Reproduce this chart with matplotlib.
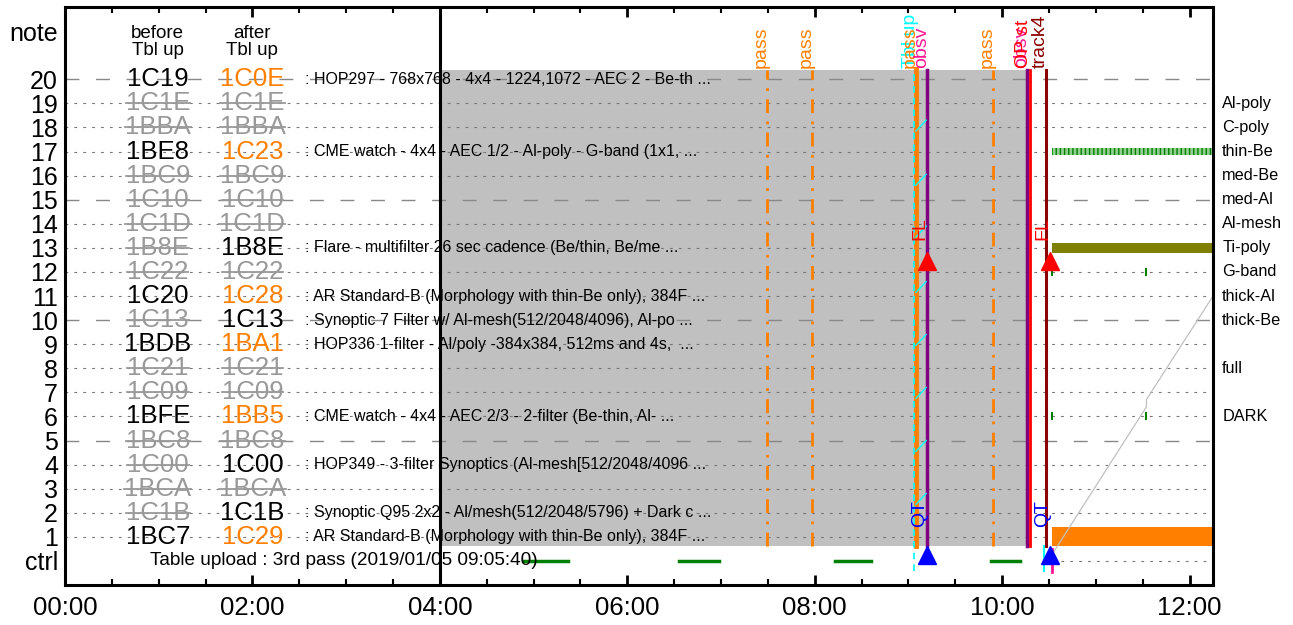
import matplotlib
matplotlib.use("Agg")
import matplotlib.pyplot as plt
from matplotlib.patches import Rectangle

plt.rcParams['font.family'] = ['Liberation Sans', 'DejaVu Sans']

ORANGE = '#ff8000'
GRAY = '#999999'

# program table slots, top to bottom
slots = [20, 19, 18, 17, 16, 15, 14, 13, 12, 11, 10, 9, 8, 7, 6, 5, 4, 3, 2, 1]
before_ids = ['1C19', '1C1E', '1BBA', '1BE8', '1BC9', '1C10', '1C1D', '1B8E', '1C22', '1C20',
              '1C13', '1BDB', '1C21', '1C09', '1BFE', '1BC8', '1C00', '1BCA', '1C1B', '1BC7']
after_ids = ['1C0E', '1C1E', '1BBA', '1C23', '1BC9', '1C10', '1C1D', '1B8E', '1C22', '1C28',
             '1C13', '1BA1', '1C21', '1C09', '1BB5', '1BC8', '1C00', '1BCA', '1C1B', '1C29']
# k = kept, n = new, x = not used
before_state = ['k', 'x', 'x', 'k', 'x', 'x', 'x', 'x', 'x', 'k',
                'x', 'k', 'x', 'x', 'k', 'x', 'x', 'x', 'x', 'k']
after_state = ['n', 'x', 'x', 'n', 'x', 'x', 'x', 'k', 'x', 'n',
               'k', 'n', 'x', 'x', 'n', 'x', 'k', 'x', 'k', 'n']
descriptions = {
    20: ": HOP297 - 768x768 - 4x4 - 1224,1072 - AEC 2 - Be-th ...",
    17: ": CME watch - 4x4 - AEC 1/2 - Al-poly - G-band (1x1, ...",
    13: ": Flare - multifilter 26 sec cadence (Be/thin, Be/me ...",
    11: ": AR Standard-B (Morphology with thin-Be only), 384F ...",
    10: ": Synoptic 7 Filter w/ Al-mesh(512/2048/4096), Al-po ...",
    9: ": HOP336 1-filter - Al/poly -384x384, 512ms and 4s,  ...",
    6: ": CME watch - 4x4 - AEC 2/3 - 2-filter (Be-thin, Al- ...",
    4: ": HOP349 - 3-filter Synoptics (Al-mesh[512/2048/4096 ...",
    2: ": Synoptic Q95 2x2 - Al/mesh(512/2048/5796) + Dark c ...",
    1: ": AR Standard-B (Morphology with thin-Be only), 384F ...",
}
filter_rows = [19, 18, 17, 16, 15, 14, 13, 12, 11, 10, 8, 6]
filter_names = ['Al-poly', 'C-poly', 'thin-Be', 'med-Be', 'med-Al', 'Al-mesh',
                'Ti-poly', 'G-band', 'thick-Al', 'thick-Be', 'full', 'DARK']

# times in hours
upload_line = 4.0
busy_start, busy_end = 4.0, 10.27
pass_times = [7.49, 7.97, 9.08, 9.90]
tbl_up_time = 9.06
flare_time = 9.08
obsv_times = [9.20, 10.27]
op_start = 10.30
track4_time = 10.47
fl_times = [9.20, 10.51]
cyan_marks = [18.1, 15.85, 13.7, 11.4, 9.2, 7.0, 4.8, 2.6]
ctrl_start = [4.89, 6.55, 8.22, 9.88]
ctrl_end = [5.37, 6.98, 8.60, 10.19]
exp_start = 10.53
gband_marks = [10.53, 11.54]
dark_marks = [10.53, 11.54]
volume_x = [10.53, 11.54, 11.54, 12.30]
volume_y = [0.25, 6.40, 6.70, 11.30]

XMAX = 12.25

fig = plt.figure(figsize=(12.93, 6.25), dpi=100)
ax = fig.add_axes([65 / 1293, 40 / 625, 1148 / 1293, 578 / 625])
ax.set_xlim(0, XMAX)
ax.set_ylim(-1, 23)

ax.add_patch(Rectangle((busy_start, 0.6), busy_end - busy_start, 19.8,
                       color='#c0c0c0', lw=0, zorder=0.5))

# row grid
for r in range(1, 21):
    if r % 5 == 0:
        ax.axhline(r, color='#888888', lw=1.0, dashes=(10, 12), zorder=1)
    else:
        ax.axhline(r, color='#777777', lw=0.8, dashes=(2.5, 5.5), zorder=1)
ax.plot([exp_start, XMAX], [0, 0], color='#777777', lw=0.8, dashes=(2.5, 5.5), zorder=1)

ax.axvline(upload_line, color='black', lw=2.2, zorder=4)

# table ids
struck = []
for i, s in enumerate(slots):
    for x, code, st in [(0.99, before_ids[i], before_state[i]), (2.0, after_ids[i], after_state[i])]:
        c = {'k': 'black', 'n': ORANGE, 'x': GRAY}[st]
        t = ax.text(x, s, code, color=c, fontsize=18.5, ha='center', va='center', zorder=5)
        if st == 'x':
            struck.append((t, s))
    if s in descriptions:
        ax.text(2.56, s, descriptions[s], fontsize=11.5, ha='left', va='center', zorder=5)

ax.text(0.99, 21.55, "before\nTbl up", fontsize=13.5, ha='center', va='center', linespacing=1.0)
ax.text(2.0, 21.55, "after\nTbl up", fontsize=13.5, ha='center', va='center', linespacing=1.0)
ax.text(0.91, 0, "Table upload : 3rd pass (2019/01/05 09:05:40)", fontsize=13.7,
        ha='left', va='center', zorder=5)

# event lines
ax.text(tbl_up_time - 0.04, 20.45, "Tbl up", color='cyan', fontsize=14, rotation=90,
        ha='center', va='bottom', zorder=2)
for p in pass_times:
    ax.plot([p, p], [0.6, 20.4], color=ORANGE, lw=2, ls=(0, (5, 3, 1, 3)), zorder=3)
    ax.text(p - 0.06, 20.45, "pass", color=ORANGE, fontsize=14, rotation=90,
            ha='center', va='bottom', zorder=3)
ax.plot([flare_time, flare_time], [0.6, 20.4], color=ORANGE, lw=3.5, zorder=3)
ax.plot([tbl_up_time, tbl_up_time], [-0.4, 20.4], color='cyan', lw=1.2, dashes=(4, 3), zorder=3.5)
for y in cyan_marks:
    ax.plot([9.08, 9.19], [y - 0.25, y + 0.2], color='cyan', lw=1, zorder=3.5)
for o in obsv_times:
    ax.plot([o, o], [0.6, 20.4], color='purple', lw=2.5, zorder=3)
    ax.text(o - 0.06, 20.45, "obsv", color='deeppink', fontsize=14, rotation=90,
            ha='center', va='bottom')
ax.plot([op_start, op_start], [0.6, 20.4], color='red', lw=2, zorder=3.2)
ax.text(op_start - 0.07, 20.45, "OP st", color='red', fontsize=14, rotation=90,
        ha='center', va='bottom')
ax.plot([track4_time, track4_time], [0.6, 20.4], color='#8b0000', lw=2.2, zorder=3)
ax.text(track4_time - 0.06, 20.45, "track4", color='#8b0000', fontsize=14, rotation=90,
        ha='center', va='bottom')
ax.plot([10.45, 10.45], [-0.4, 0.6], color='cyan', lw=1.5, zorder=3)
ax.plot([10.53, 10.53], [-0.45, 0.5], color='deeppink', lw=2, zorder=3)

for f in fl_times:
    ax.plot(f, 12.45, marker='^', color='red', ms=13, zorder=6)
    ax.plot(f, 0.25, marker='^', color='blue', ms=13, zorder=6)
    ax.text(f - 0.08, 13.8, "FL", color='red', fontsize=14, rotation=90,
            ha='center', va='center', zorder=6)
    ax.text(f - 0.08, 1.95, "QT", color='blue', fontsize=14, rotation=90,
            ha='center', va='center', zorder=6)

# control row
for a, b in zip(ctrl_start, ctrl_end):
    ax.plot([a, b], [0, 0], color='green', lw=2.5, zorder=3)

# exposures after the pass
plt.rcParams['hatch.linewidth'] = 1.0
ax.barh(17, XMAX - exp_start, left=exp_start, height=0.25, color='#90d090',
        edgecolor='green', hatch='||||', lw=0, zorder=3)
ax.barh(13, XMAX - exp_start, left=exp_start, height=0.42, color='#808000', lw=0, zorder=3)
ax.barh(1.0, XMAX - exp_start, left=exp_start, height=0.8, color=ORANGE, lw=0, zorder=3)
ax.plot(gband_marks, [12] * len(gband_marks), ls='none', marker='|', color='green', ms=6, mew=1.5, zorder=3)
ax.plot(dark_marks, [6] * len(dark_marks), ls='none', marker='|', color='green', ms=6, mew=1.5, zorder=3)
ax.plot(volume_x, volume_y, color='#c0c0c0', lw=0.9, zorder=4)

for r, name in zip(filter_rows, filter_names):
    ax.text(1.008, r, name, transform=ax.get_yaxis_transform(), fontsize=11.7,
            ha='left', va='center')

# axes styling
ax.set_xticks(range(0, 13, 2))
ax.set_xticklabels(['%02d:00' % h for h in range(0, 13, 2)], fontsize=18.5)
ax.set_xticks([h / 2 for h in range(0, 25)], minor=True)
ax.tick_params(axis='x', which='major', direction='in', top=True, length=7, width=2, pad=8)
ax.tick_params(axis='x', which='minor', direction='in', top=True, length=4, width=1.5)
ax.set_yticks(list(range(0, 21)) + [22])
ax.set_yticklabels(['ctrl'] + [str(i) for i in range(1, 21)] + ['note'], fontsize=18)
ax.tick_params(axis='y', length=0, pad=5)
for sp in ax.spines.values():
    sp.set_linewidth(2.2)
    sp.set_zorder(7)

# strike out unused table ids
fig.canvas.draw()
renderer = fig.canvas.get_renderer()
inv = ax.transData.inverted()
for t, s in struck:
    bb = t.get_window_extent(renderer)
    x0 = inv.transform((bb.x0, bb.y0))[0]
    x1 = inv.transform((bb.x1, bb.y0))[0]
    ax.plot([x0, x1], [s, s], color=GRAY, lw=1.3, zorder=5)

fig.savefig('out.png', dpi=100)
